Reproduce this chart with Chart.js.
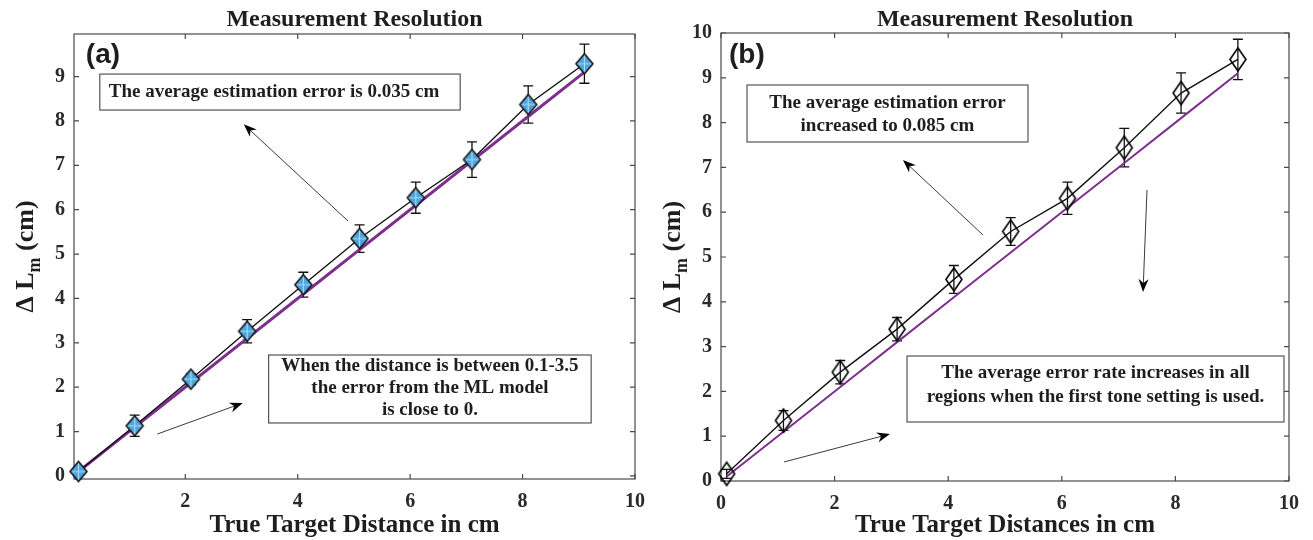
<!DOCTYPE html>
<html>
<head>
<meta charset="utf-8">
<script src="https://cdn.jsdelivr.net/npm/chart.js@4.4.1/dist/chart.umd.min.js"></script>
<style>
html,body{margin:0;padding:0;background:#fff;}
#wrap{position:relative;width:1313px;height:540px;overflow:hidden;background:#fff;}
canvas{position:absolute;top:0;}
</style>
</head>
<body>
<div id="wrap">
<canvas id="ca" width="656" height="540" style="left:0px"></canvas>
<canvas id="cb" width="657" height="540" style="left:656px"></canvas>
</div>
<script>
// ---------------- data ----------------
const distancesA = [0.1, 1.1, 2.1, 3.1, 4.1, 5.1, 6.1, 7.1, 8.1, 9.1];
const measuredA  = [0.10, 1.13, 2.18, 3.26, 4.31, 5.35, 6.27, 7.13, 8.37, 9.29];
const errorA     = [0.06, 0.24, 0.12, 0.26, 0.28, 0.31, 0.35, 0.40, 0.42, 0.44];
const idealA     = [0.1, 1.1, 2.1, 3.1, 4.1, 5.1, 6.1, 7.1, 8.1, 9.1];

const distancesB = [0.1, 1.1, 2.1, 3.1, 4.1, 5.1, 6.1, 7.1, 8.1, 9.1];
const measuredB  = [0.16, 1.35, 2.43, 3.39, 4.50, 5.57, 6.31, 7.44, 8.66, 9.41];
const errorB     = [0.10, 0.22, 0.26, 0.26, 0.31, 0.31, 0.36, 0.43, 0.45, 0.45];
const idealB     = [0.1, 1.1, 2.1, 3.1, 4.1, 5.1, 6.1, 7.1, 8.1, 9.1];

const xTicksA = [2, 4, 6, 8, 10];
const yTicksA = [0, 1, 2, 3, 4, 5, 6, 7, 8, 9];
const xTicksB = [0, 2, 4, 6, 8, 10];
const yTicksB = [0, 1, 2, 3, 4, 5, 6, 7, 8, 9, 10];

const titleText = 'Measurement Resolution';
const xTitleA = 'True Target Distance in cm';
const xTitleB = 'True Target Distances in cm';
const panelLabelA = '(a)';
const panelLabelB = '(b)';
const boxTextA1 = ['The average estimation error is 0.035 cm'];
const boxTextA2 = ['When the distance is between 0.1-3.5', 'the error from the ML model', 'is close to 0.'];
const boxTextB1 = ['The average estimation error', 'increased to 0.085 cm'];
const boxTextB2 = ['The average error rate increases in all', 'regions when the first tone setting is used.'];

// ---------------- styling helpers ----------------
const SERIF = '"Liberation Serif", "Times New Roman", Times, serif';
const SANS = '"Liberation Sans", Arial, sans-serif';
const TEXT = '#1e1e1e';

function diamond(w, h, fill, stroke, lw, cross) {
  const c = document.createElement('canvas');
  c.width = w + 4; c.height = h + 4;
  const g = c.getContext('2d');
  const cx = c.width / 2, cy = c.height / 2;
  const path = () => {
    g.beginPath();
    g.moveTo(cx, 2); g.lineTo(c.width - 2, cy); g.lineTo(cx, c.height - 2); g.lineTo(2, cy); g.closePath();
  };
  path();
  if (fill) { g.fillStyle = fill; g.fill(); }
  if (cross) {
    g.save(); g.clip();
    g.strokeStyle = cross; g.lineWidth = 1.1;
    g.beginPath(); g.moveTo(cx, 0); g.lineTo(cx, c.height); g.moveTo(0, cy); g.lineTo(c.width, cy); g.stroke();
    g.restore();
  }
  path();
  g.lineWidth = lw; g.strokeStyle = stroke; g.stroke();
  return c;
}

function arrow(ctx, x1, y1, x2, y2) {
  const ang = Math.atan2(y2 - y1, x2 - x1);
  const L = 13, W = 5;
  const bx = x2 - Math.cos(ang) * L * 0.7, by = y2 - Math.sin(ang) * L * 0.7;
  ctx.strokeStyle = '#3a3a3a'; ctx.lineWidth = 1;
  ctx.beginPath(); ctx.moveTo(x1, y1); ctx.lineTo(bx, by); ctx.stroke();
  const px = -Math.sin(ang), py = Math.cos(ang);
  const backX = x2 - Math.cos(ang) * L, backY = y2 - Math.sin(ang) * L;
  ctx.fillStyle = '#000';
  ctx.beginPath();
  ctx.moveTo(x2, y2);
  ctx.lineTo(backX + px * W, backY + py * W);
  ctx.lineTo(bx, by);
  ctx.lineTo(backX - px * W, backY - py * W);
  ctx.closePath(); ctx.fill();
}

function makePanel(id, s) {
  const plugin = {
    id: 'panel_' + id,
    beforeDatasetsDraw(chart) {
      const { ctx, chartArea: ca, scales: { x, y } } = chart;
      ctx.save();
      ctx.strokeStyle = '#4a4a4a'; ctx.lineWidth = 1.2;
      ctx.strokeRect(ca.left, ca.top, ca.right - ca.left, ca.bottom - ca.top);
      ctx.beginPath();
      x.ticks.forEach(t => {
        const p = x.getPixelForValue(t.value);
        ctx.moveTo(p, ca.bottom); ctx.lineTo(p, ca.bottom - 5);
        ctx.moveTo(p, ca.top); ctx.lineTo(p, ca.top + 5);
      });
      y.ticks.forEach(t => {
        const p = y.getPixelForValue(t.value);
        ctx.moveTo(ca.left, p); ctx.lineTo(ca.left + 5, p);
        ctx.moveTo(ca.right, p); ctx.lineTo(ca.right - 5, p);
      });
      ctx.stroke();
      // error bars
      ctx.strokeStyle = '#111'; ctx.lineWidth = 1.3;
      ctx.beginPath();
      s.xs.forEach((xv, i) => {
        const px = x.getPixelForValue(xv);
        const top = y.getPixelForValue(s.ys[i] + s.err[i]);
        const bot = y.getPixelForValue(s.ys[i] - s.err[i]);
        ctx.moveTo(px, top); ctx.lineTo(px, bot);
        ctx.moveTo(px - 5, top); ctx.lineTo(px + 5, top);
        ctx.moveTo(px - 5, bot); ctx.lineTo(px + 5, bot);
      });
      ctx.stroke();
      ctx.restore();
    },
    afterDraw(chart) {
      const { ctx, chartArea: ca, scales: { x, y } } = chart;
      const X = v => x.getPixelForValue(v), Y = v => y.getPixelForValue(v);
      const cxp = (ca.left + ca.right) / 2;
      ctx.save();
      ctx.fillStyle = TEXT;
      ctx.font = `bold 24px ${SERIF}`; ctx.textAlign = 'center'; ctx.textBaseline = 'alphabetic';
      ctx.fillText(s.title, cxp, 26);
      ctx.font = `bold 25px ${SERIF}`;
      ctx.fillText(s.xTitle, cxp, 532);
      ctx.save();
      ctx.translate(ca.left - 50, (ca.top + ca.bottom) / 2);
      ctx.rotate(-Math.PI / 2);
      const f1 = `bold 26px ${SERIF}`, f2 = `bold 18px ${SERIF}`;
      ctx.font = f1; const w1 = ctx.measureText('\u0394 L').width; const w3 = ctx.measureText(' (cm)').width;
      ctx.font = f2; const w2 = ctx.measureText('m').width;
      let tx = -(w1 + w2 + w3) / 2;
      ctx.textAlign = 'left';
      ctx.font = f1; ctx.fillText('\u0394 L', tx, 9); tx += w1;
      ctx.font = f2; ctx.fillText('m', tx, 16); tx += w2;
      ctx.font = f1; ctx.fillText(' (cm)', tx, 9);
      ctx.restore();
      ctx.font = `bold 28px ${SANS}`; ctx.textAlign = 'left'; ctx.textBaseline = 'alphabetic';
      ctx.fillText(s.label, X(s.labelPos[0]), Y(s.labelPos[1]));
      s.boxes.forEach(b => {
        ctx.strokeStyle = '#555'; ctx.lineWidth = 1.2;
        const l = X(b.x1), r = X(b.x2), t = Y(b.y1), bt = Y(b.y2);
        ctx.strokeRect(l, t, r - l, bt - t);
        ctx.fillStyle = TEXT;
        ctx.font = `bold 19px ${SERIF}`;
        ctx.textAlign = b.align; ctx.textBaseline = 'middle';
        b.lines.forEach((ln, i) => ctx.fillText(ln, X(b.tx), Y(b.ty[i])));
      });
      s.arrows.forEach(a => arrow(ctx, X(a[0]), Y(a[1]), X(a[2]), Y(a[3])));
      ctx.restore();
    }
  };

  const tickFont = { family: SERIF, size: 20, weight: 'bold' };
  new Chart(document.getElementById(id), {
    type: 'line',
    data: {
      datasets: [
        {
          label: 'Measured',
          data: s.xs.map((v, i) => ({ x: v, y: s.ys[i] })),
          borderColor: '#111', borderWidth: 1.4,
          pointStyle: s.marker, pointRadius: 9, pointHoverRadius: 9,
          tension: 0, clip: false, order: 0
        },
        {
          label: 'Ideal',
          data: s.xs.map((v, i) => ({ x: v, y: s.ideal[i] })),
          borderColor: '#7E2F8E', borderWidth: s.idealWidth,
          pointRadius: 0, tension: 0, clip: false, order: 1
        }
      ]
    },
    options: {
      responsive: false, animation: false, events: [],
      layout: { padding: { top: s.top, right: s.right, left: 0, bottom: 0 } },
      plugins: { legend: { display: false }, tooltip: { enabled: false }, title: { display: false } },
      scales: {
        x: {
          type: 'linear', min: s.xmin, max: s.xmax,
          grid: { display: false, drawTicks: false }, border: { display: false },
          ticks: { font: tickFont, color: '#2a2a2a', padding: 11, maxRotation: 0, autoSkip: false, includeBounds: false },
          afterBuildTicks: sc => { sc.ticks = s.xTicks.map(v => ({ value: v })); },
          afterFit: sc => { sc.height = s.xAxisH; }
        },
        y: {
          type: 'linear', min: s.ymin, max: s.ymax,
          grid: { display: false, drawTicks: false }, border: { display: false },
          ticks: { font: tickFont, color: '#2a2a2a', padding: 9, autoSkip: false, includeBounds: false },
          afterBuildTicks: sc => { sc.ticks = s.yTicks.map(v => ({ value: v })); },
          afterFit: sc => { sc.width = s.yAxisW; }
        }
      }
    },
    plugins: [plugin]
  });
}

makePanel('ca', {
  xs: distancesA, ys: measuredA, err: errorA, ideal: idealA,
  xTicks: xTicksA, yTicks: yTicksA,
  xmin: 0.02, xmax: 10, ymin: -0.07, ymax: 9.96,
  top: 34, right: 17, xAxisH: 61, yAxisW: 74,
  idealWidth: 3,
  marker: diamond(17, 20, '#4FA6DD', '#111', 1.5, 'rgba(190,228,250,0.85)'),
  title: titleText, xTitle: xTitleA, label: panelLabelA, labelPos: [0.23, 9.31],
  boxes: [
    { x1: 0.479, y1: 9.057, x2: 6.89, y2: 8.246, lines: boxTextA1, align: 'left', tx: 0.638, ty: [8.652] },
    { x1: 3.482, y1: 2.725, x2: 9.22, y2: 1.193, lines: boxTextA2, align: 'center', tx: 6.352, ty: [2.477, 1.981, 1.485] }
  ],
  arrows: [
    [4.895, 5.745, 3.04, 7.924],
    [1.503, 0.944, 3.022, 1.643]
  ]
});

makePanel('cb', {
  xs: distancesB, ys: measuredB, err: errorB, ideal: idealB,
  xTicks: xTicksB, yTicks: yTicksB,
  xmin: 0, xmax: 10, ymin: 0, ymax: 10,
  top: 33, right: 24, xAxisH: 59, yAxisW: 65,
  idealWidth: 2,
  marker: diamond(16, 23, null, '#000', 1.6, null),
  title: titleText, xTitle: xTitleB, label: panelLabelB, labelPos: [0.14, 9.33],
  boxes: [
    { x1: 0.458, y1: 8.839, x2: 5.405, y2: 7.567, lines: boxTextB1, align: 'center', tx: 2.931, ty: [8.444, 7.931] },
    { x1: 3.275, y1: 2.79, x2: 9.912, y2: 1.317, lines: boxTextB2, align: 'center', tx: 6.593, ty: [2.411, 1.882] }
  ],
  arrows: [
    [4.613, 5.491, 3.204, 7.165],
    [7.5, 6.496, 7.43, 4.219],
    [1.109, 0.424, 2.975, 1.049]
  ]
});
</script>
</body>
</html>
